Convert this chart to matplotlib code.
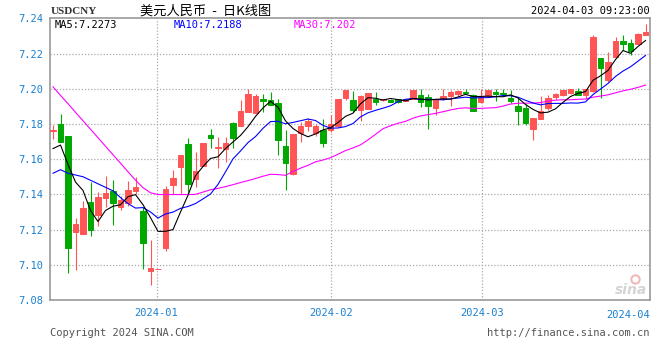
import numpy as np
import pandas as pd
import matplotlib
matplotlib.use("Agg")
import matplotlib.pyplot as plt

# daily USDCNY candles (80 sessions, mid-Dec 2023 .. 2024-04-03)
OPEN = [7.1758, 7.1800, 7.1730, 7.1184, 7.1174, 7.1354, 7.1280, 7.1379, 7.1420, 7.1328,
        7.1350, 7.1419, 7.1305, 7.0964, 7.0977, 7.1095, 7.1453, 7.1555, 7.1684, 7.1485,
        7.1561, 7.1735, 7.1666, 7.1656, 7.1804, 7.1790, 7.1868, 7.1863, 7.1940, 7.1938,
        7.1917, 7.1673, 7.1514, 7.1746, 7.1787, 7.1749, 7.1764, 7.1764, 7.1787, 7.1950,
        7.1938, 7.1881, 7.1883, 7.1940, 7.1935, 7.1934, 7.1940, 7.1929, 7.1940, 7.1963,
        7.1955, 7.1891, 7.1940, 7.1957, 7.1971, 7.1982, 7.1965, 7.1923, 7.1961, 7.1980,
        7.1978, 7.1946, 7.1900, 7.1889, 7.1770, 7.1828, 7.1891, 7.1954, 7.1963, 7.1976,
        7.1985, 7.1963, 7.1986, 7.2172, 7.2048, 7.2181, 7.2270, 7.2257, 7.2253, 7.2306]
HIGH = [7.1792, 7.1859, 7.1730, 7.1263, 7.1360, 7.1470, 7.1415, 7.1502, 7.1483, 7.1389,
        7.1478, 7.1498, 7.1328, 7.1138, 7.0977, 7.1447, 7.1538, 7.1626, 7.1722, 7.1639,
        7.1690, 7.1770, 7.1726, 7.1726, 7.1811, 7.1938, 7.1997, 7.1972, 7.1969, 7.1982,
        7.1940, 7.1764, 7.1745, 7.1811, 7.1836, 7.1802, 7.1826, 7.1849, 7.1940, 7.1991,
        7.1988, 7.1963, 7.1976, 7.1982, 7.1940, 7.1940, 7.1944, 7.1940, 7.1991, 7.1997,
        7.1969, 7.1950, 7.1997, 7.1993, 7.1993, 7.1997, 7.1969, 7.1997, 7.1991, 7.1997,
        7.1997, 7.1991, 7.1950, 7.1916, 7.1832, 7.1957, 7.1963, 7.1976, 7.1991, 7.1997,
        7.2003, 7.1997, 7.2304, 7.2172, 7.2206, 7.2291, 7.2304, 7.2285, 7.2314, 7.2367]
LOW = [7.1713, 7.1698, 7.0954, 7.0971, 7.1174, 7.1163, 7.1220, 7.1328, 7.1225, 7.1310,
       7.1332, 7.1400, 7.0977, 7.0886, 7.0977, 7.1076, 7.1400, 7.1404, 7.1400, 7.1442,
       7.1561, 7.1663, 7.1550, 7.1584, 7.1663, 7.1790, 7.1868, 7.1863, 7.1868, 7.1906,
       7.1622, 7.1423, 7.1509, 7.1696, 7.1758, 7.1734, 7.1669, 7.1754, 7.1783, 7.1938,
       7.1868, 7.1815, 7.1883, 7.1906, 7.1931, 7.1925, 7.1921, 7.1929, 7.1940, 7.1897,
       7.1773, 7.1853, 7.1934, 7.1900, 7.1961, 7.1976, 7.1872, 7.1919, 7.1961, 7.1931,
       7.1972, 7.1919, 7.1796, 7.1796, 7.1707, 7.1826, 7.1878, 7.1944, 7.1957, 7.1972,
       7.1963, 7.1944, 7.1982, 7.1948, 7.2039, 7.2181, 7.2219, 7.2189, 7.2253, 7.2306]
CLOSE = [7.1764, 7.1698, 7.1095, 7.1229, 7.1324, 7.1197, 7.1383, 7.1409, 7.1350, 7.1366,
         7.1426, 7.1442, 7.1123, 7.0981, 7.0977, 7.1428, 7.1491, 7.1622, 7.1457, 7.1531,
         7.1690, 7.1720, 7.1669, 7.1690, 7.1720, 7.1874, 7.1969, 7.1961, 7.1929, 7.1910,
         7.1709, 7.1578, 7.1745, 7.1787, 7.1817, 7.1790, 7.1692, 7.1802, 7.1940, 7.1991,
         7.1881, 7.1957, 7.1976, 7.1925, 7.1940, 7.1925, 7.1925, 7.1940, 7.1991, 7.1925,
         7.1900, 7.1940, 7.1957, 7.1982, 7.1986, 7.1976, 7.1876, 7.1961, 7.1991, 7.1972,
         7.1972, 7.1929, 7.1874, 7.1806, 7.1832, 7.1872, 7.1950, 7.1969, 7.1991, 7.1997,
         7.1963, 7.1997, 7.2291, 7.2118, 7.2151, 7.2270, 7.2255, 7.2213, 7.2310, 7.2321]

# MA values before enough history is on screen
MA5_HEAD = [7.166, 7.168, 7.157, 7.147]
MA10_HEAD = [7.152, 7.154, 7.152, 7.151, 7.150, 7.148, 7.146, 7.144, 7.142]
MA30_HEAD = [7.2011, 7.1962, 7.1915, 7.1866, 7.1818, 7.1770, 7.1722, 7.1673, 7.1625, 7.1577,
             7.1528, 7.1481, 7.1438, 7.1409, 7.1399, 7.1399, 7.1399, 7.1399, 7.1399, 7.1400,
             7.1413, 7.1426, 7.1434, 7.1444, 7.1455, 7.1467, 7.1478, 7.1490, 7.1503]

# latest MA values as printed in the chart legend
MA_LABELS = ["MA5:7.2273", "MA10:7.2188", "MA30:7.202"]

MONTH_LABELS = ["2024-01", "2024-02", "2024-03"]
MONTH_POS = [13.8, 37.05, 57.25]   # session index where month starts
Y_TICKS = [7.08, 7.10, 7.12, 7.14, 7.16, 7.18, 7.20, 7.22, 7.24]

RED = "#ff5555"
GREEN = "#00a800"
TICK_BLUE = "#1a80d0"
MONO = "DejaVu Sans Mono"

df = pd.DataFrame({"o": OPEN, "h": HIGH, "l": LOW, "c": CLOSE})
x = np.arange(len(df))


def ma(n, head):
    m = df["c"].rolling(n).mean().to_numpy()
    m[:len(head)] = head
    return m


ma5, ma10, ma30 = ma(5, MA5_HEAD), ma(10, MA10_HEAD), ma(30, MA30_HEAD)

fig = plt.figure(figsize=(6.6, 3.6), dpi=100)
ax = fig.add_axes([50 / 660, 60 / 360, 600 / 660, 281.7 / 360])

# grid
for yv in Y_TICKS[1:-1]:
    ax.axhline(yv, color="#aaaaaa", lw=0.9, ls=(0, (1, 1.5)), zorder=0)
for xv in MONTH_POS:
    ax.axvline(xv, color="#aaaaaa", lw=0.9, ls=(0, (1, 1.5)), zorder=0)

# candles
up = df["c"] >= df["o"]
cols = np.where(up, RED, GREEN)
ax.vlines(x, df["l"], df["h"], colors=cols, lw=0.8, zorder=2)
ax.bar(x, (df["c"] - df["o"]).abs(), bottom=np.minimum(df["o"], df["c"]),
       width=0.78, color=cols, edgecolor=cols, linewidth=0.7, zorder=3)

# moving averages
ax.plot(x, ma30, color="#ff00ff", lw=0.8, zorder=4)
ax.plot(x, ma10, color="#0000ff", lw=0.8, zorder=4)
ax.plot(x, ma5, color="black", lw=0.8, zorder=5)

ax.set_xlim(-0.4, 79.6)
ax.set_ylim(7.08, 7.24)

for s in ax.spines.values():
    s.set_color("#999999")
    s.set_linewidth(1.2)

ax.set_yticks(Y_TICKS)
ax.set_yticklabels([f"{v:.2f}" for v in Y_TICKS], family=MONO, fontsize=7.5, color=TICK_BLUE)
ax.set_xticks(MONTH_POS)
ax.set_xticklabels(MONTH_LABELS, family=MONO, fontsize=7.5, color=TICK_BLUE)
ax.tick_params(length=0, axis="y", pad=5)
ax.tick_params(length=0, axis="x", pad=6)
ax.text(1.0, -0.035, "2024-04", transform=ax.transAxes, ha="right", va="top",
        family=MONO, fontsize=7.5, color=TICK_BLUE)

# legend values
for lab, xp, col in zip(MA_LABELS, [5, 124, 244], ["black", "#0000ff", "#ff00ff"]):
    ax.text(xp / 600, 0.995, lab, transform=ax.transAxes, va="top",
            family=MONO, fontsize=7.5, color=col)

# sina watermark
ax.text(0.995, 0.01, "sina", transform=ax.transAxes, ha="right", va="bottom",
        fontsize=10, fontweight="bold", style="italic", color="#d4d4d4")
ax.plot([0.975], [0.075], transform=ax.transAxes, marker="o", ms=6,
        mfc="none", mec="#f2b8b8", mew=1.5)

# header / footer
fig.text(51 / 660, 1 - 12 / 360, "USDCNY", family="Liberation Serif", fontweight="bold",
         fontsize=8, color="#333333", va="center")
fig.text(140 / 660, 1 - 11 / 360, "美元人民币  -  日K线图",
         family=["Noto Sans CJK SC", "DejaVu Sans"], fontsize=9.5, color="black", va="center")
fig.text(650 / 660, 1 - 11 / 360, "2024-04-03 09:23:00", family=MONO, fontsize=7.5,
         color="black", ha="right", va="center")
fig.text(50 / 660, 1 - 333 / 360, "Copyright 2024 SINA.COM", family=MONO, fontsize=7.5,
         color="#555555", va="center")
fig.text(650 / 660, 1 - 333 / 360, "http://finance.sina.com.cn", family=MONO, fontsize=7.5,
         color="#555555", ha="right", va="center")

fig.savefig("out.png", dpi=100)
